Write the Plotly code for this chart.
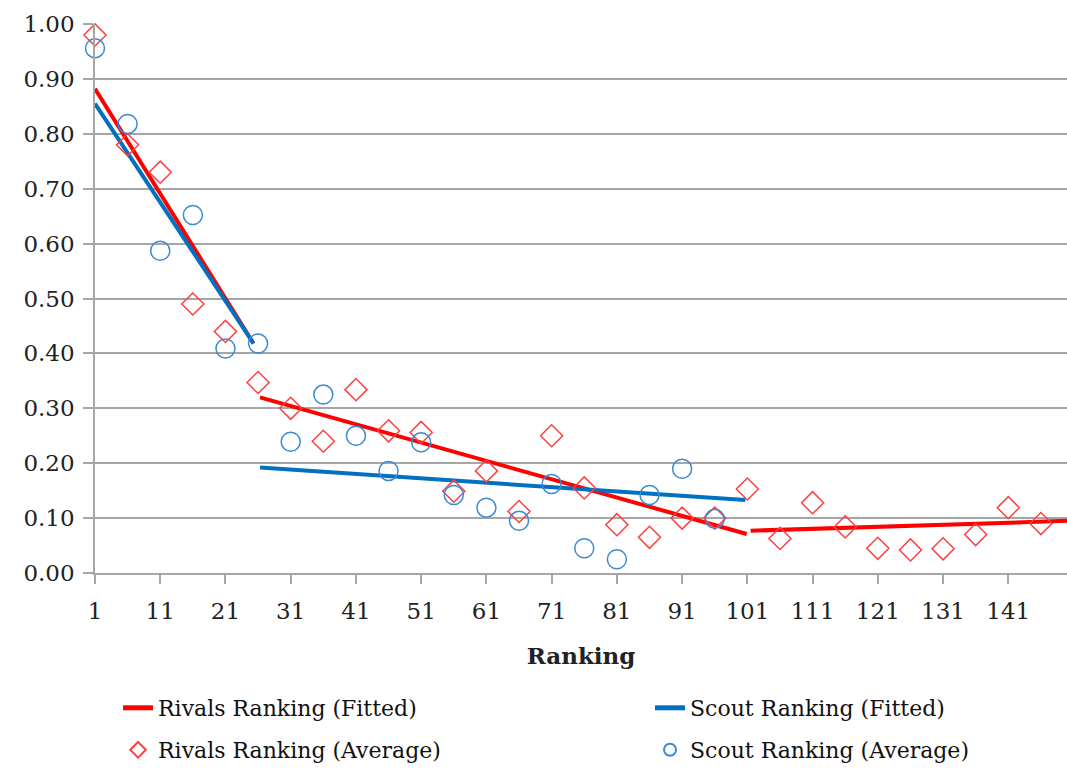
import plotly.graph_objects as go

# Average values by ranking bucket (every 5 ranks)
rivals_x = [1, 6, 11, 16, 21, 26, 31, 36, 41, 46, 51, 56, 61, 66, 71, 76, 81, 86, 91, 96,
            101, 106, 111, 116, 121, 126, 131, 136, 141, 146]
rivals_avg = [0.98, 0.78, 0.73, 0.49, 0.44, 0.347, 0.30, 0.24, 0.334, 0.259, 0.256, 0.149,
              0.186, 0.112, 0.25, 0.155, 0.088, 0.065, 0.10, 0.10,
              0.153, 0.063, 0.128, 0.084, 0.045, 0.042, 0.044, 0.07, 0.119, 0.09]

scout_x = [1, 6, 11, 16, 21, 26, 31, 36, 41, 46, 51, 56, 61, 66, 71, 76, 81, 86, 91, 96]
scout_avg = [0.956, 0.818, 0.587, 0.652, 0.409, 0.418, 0.239, 0.325, 0.25, 0.186, 0.238,
             0.142, 0.119, 0.095, 0.162, 0.045, 0.025, 0.142, 0.19, 0.099]

# Piecewise fitted lines (None separates the segments)
rivals_fit_x = [1, 25.3, None, 26.3, 100.9, None, 101.5, 150]
rivals_fit_y = [0.882, 0.418, None, 0.32, 0.071, None, 0.077, 0.095]

scout_fit_x = [1, 25.3, None, 26.3, 100.7]
scout_fit_y = [0.855, 0.418, None, 0.192, 0.133]

x_ticks = [1, 11, 21, 31, 41, 51, 61, 71, 81, 91, 101, 111, 121, 131, 141]
y_ticks = [0.0, 0.1, 0.2, 0.3, 0.4, 0.5, 0.6, 0.7, 0.8, 0.9, 1.0]

FONT = "DejaVu Serif"
RED = "#ff0000"
BLUE = "#0070c0"
RED_MK = "#ff4040"
BLUE_MK = "#3a8ad4"
GRID = "#a6a6a6"
TXT = "#222222"

fig = go.Figure()

# each legend entry gets its own legend box so the 2x2 grid can be placed freely
fig.add_trace(go.Scatter(
    x=rivals_fit_x, y=rivals_fit_y, mode="lines", name="Rivals Ranking (Fitted)",
    line=dict(color=RED, width=4), connectgaps=False, legend="legend",
))
fig.add_trace(go.Scatter(
    x=scout_fit_x, y=scout_fit_y, mode="lines", name="Scout Ranking (Fitted)",
    line=dict(color=BLUE, width=4), connectgaps=False, legend="legend2",
))
fig.add_trace(go.Scatter(
    x=rivals_x, y=rivals_avg, mode="markers", name="Rivals Ranking (Average)",
    marker=dict(symbol="diamond-open", size=17, color=RED_MK, line=dict(width=1.5, color=RED_MK)),
    cliponaxis=False, legend="legend3",
))
fig.add_trace(go.Scatter(
    x=scout_x, y=scout_avg, mode="markers", name="Scout Ranking (Average)",
    marker=dict(symbol="circle-open", size=19, color=BLUE_MK, line=dict(width=1.5, color=BLUE_MK)),
    cliponaxis=False, legend="legend4",
))

legend_common = dict(
    orientation="h", xanchor="left", yanchor="middle",
    font=dict(family=FONT, size=22, color="#111111"),
    bgcolor="rgba(0,0,0,0)", itemsizing="constant",
)
col1, col2 = 0.0237, 0.571
row1, row2 = -0.2459, -0.3224

fig.update_layout(
    width=1067, height=776,
    margin=dict(l=95, r=0, t=24, b=203),
    paper_bgcolor="white", plot_bgcolor="white",
    font=dict(family=FONT, size=22, color=TXT),
    showlegend=True,
    legend=dict(x=col1, y=row1, **legend_common),
    legend2=dict(x=col2, y=row1, **legend_common),
    legend3=dict(x=col1, y=row2, **legend_common),
    legend4=dict(x=col2, y=row2, **legend_common),
    xaxis=dict(
        range=[1, 150], tickmode="array", tickvals=x_ticks,
        showgrid=False, zeroline=False,
        showline=True, linecolor=GRID, linewidth=1.5,
        ticks="outside", ticklen=9, tickcolor=GRID, tickwidth=1.5,
        ticklabelstandoff=8,
        tickfont=dict(family=FONT, size=23, color=TXT),
        title=dict(text="<b>Ranking</b>", font=dict(family=FONT, size=23, color=TXT), standoff=25),
    ),
    yaxis=dict(
        range=[0, 1], tickmode="array", tickvals=y_ticks, tickformat=".2f",
        showgrid=True, gridcolor=GRID, gridwidth=1.5, zeroline=False,
        showline=True, linecolor=GRID, linewidth=1.5,
        ticks="outside", ticklen=10, tickcolor=GRID, tickwidth=1.5,
        ticklabelstandoff=4,
        tickfont=dict(family=FONT, size=23, color=TXT),
    ),
)

fig.write_html("out.html")
